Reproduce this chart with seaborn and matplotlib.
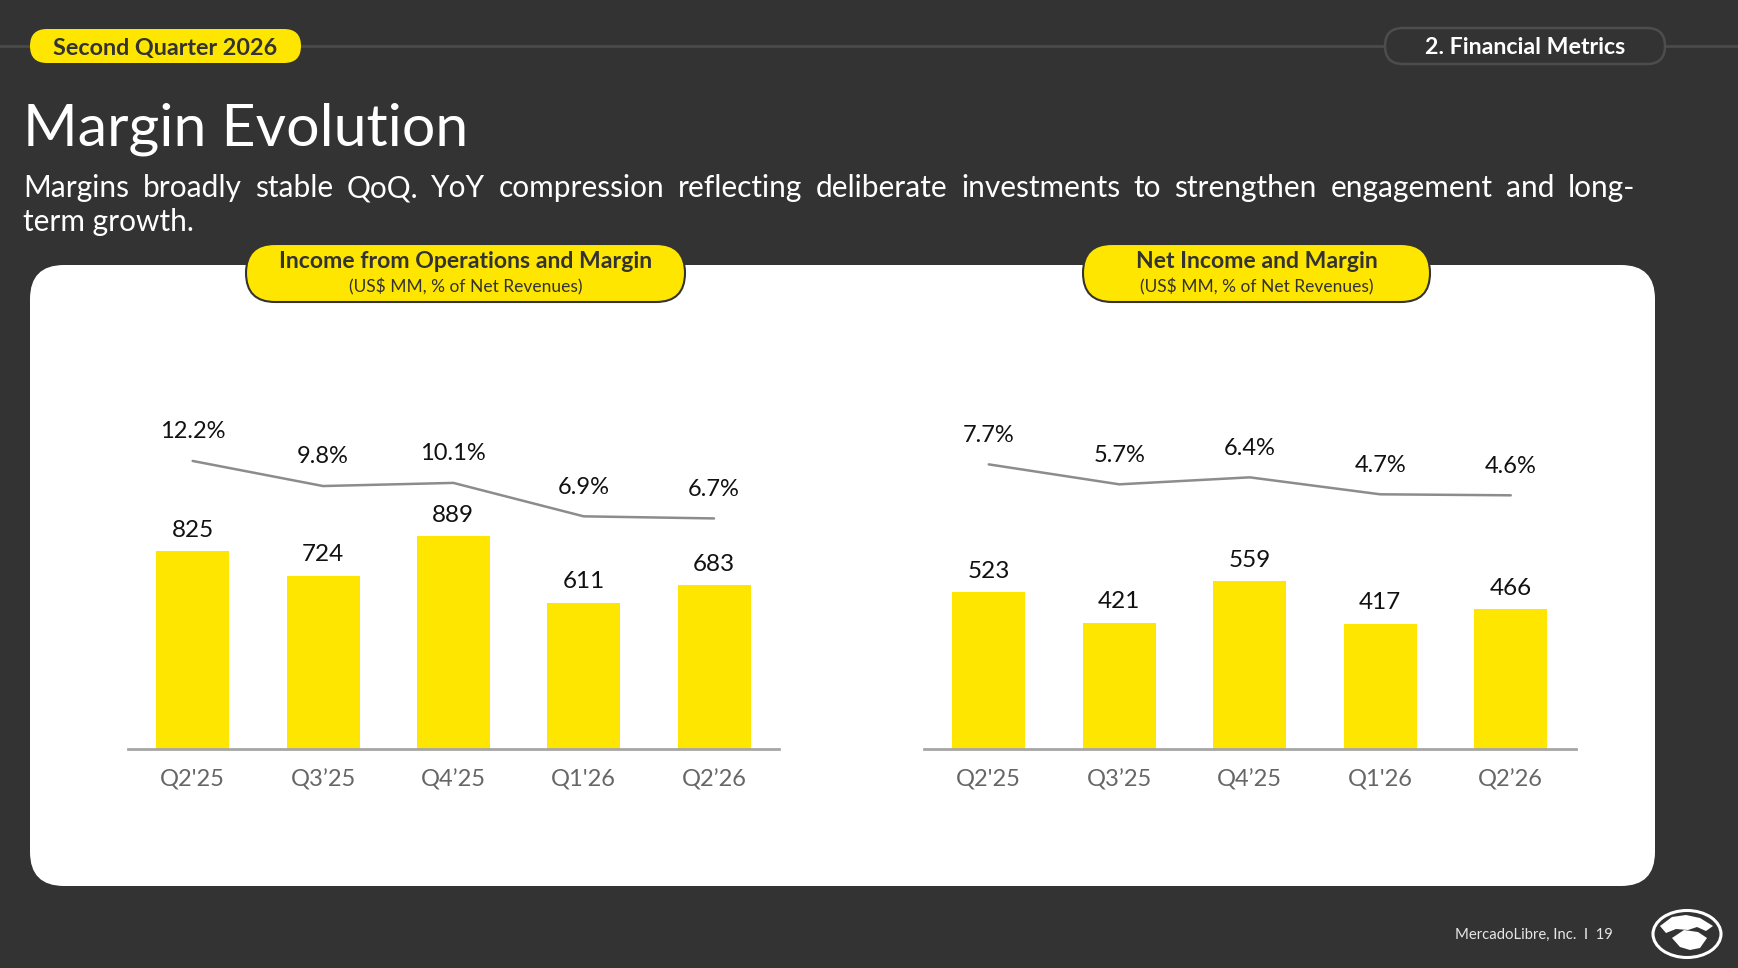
import numpy as np
import pandas as pd
import matplotlib
matplotlib.use("Agg")
import matplotlib.pyplot as plt
import seaborn as sns
from matplotlib.patches import FancyBboxPatch, Ellipse, Polygon

# ---------------- data ----------------
quarters = ["Q2'25", "Q3\u201925", "Q4\u201925", "Q1'26", "Q2\u201926"]
ops_income = [825, 724, 889, 611, 683]
ops_margin = [12.2, 9.8, 10.1, 6.9, 6.7]
net_income = [523, 421, 559, 417, 466]
net_margin = [7.7, 5.7, 6.4, 4.7, 4.6]

title = "Margin Evolution"
subtitle_1 = ("Margins broadly stable QoQ. YoY compression reflecting deliberate "
              "investments to strengthen engagement and long-")
subtitle_2 = "term growth."
left_title = "Income from Operations and Margin"
right_title = "Net Income and Margin"
units = "(US$ MM, % of Net Revenues)"

# ---------------- style ----------------
BG = "#333333"
YELLOW = "#FFE600"
DARK = "#333333"
W, H = 1738, 968

sns.set_theme(style="white")
plt.rcParams["font.family"] = ["Lato", "DejaVu Sans"]

fig = plt.figure(figsize=(W / 100, H / 100), dpi=100, facecolor=BG)
bg = fig.add_axes([0, 0, 1, 1])
bg.set_xlim(0, W)
bg.set_ylim(H, 0)
bg.axis("off")
bg.set_zorder(0)


def pill(x0, y0, x1, y1, fc, ec="none", lw=0, r=None, z=2):
    h = y1 - y0
    r = h / 2 if r is None else r
    p = FancyBboxPatch((x0, y0), x1 - x0, h,
                       boxstyle=f"round,pad=0,rounding_size={r}",
                       fc=fc, ec=ec, lw=lw, zorder=z)
    bg.add_patch(p)


# header rule
bg.plot([0, W], [45.5, 45.5], color="#4a4a4a", lw=2, zorder=1)
pill(30, 29, 301, 63, YELLOW, z=2)
bg.text(165.5, 48.5, "Second Quarter 2026", ha="center", va="center",
        fontsize=16.8, fontweight="bold", color=DARK, zorder=3)
pill(1385, 28, 1665, 64, BG, ec="#4d4d4d", lw=1.8, z=2)
bg.text(1525, 48, "2. Financial Metrics", ha="center", va="center",
        fontsize=16.7, fontweight="bold", color="white", zorder=3)

# title
bg.text(23, 146, title, ha="left", va="baseline", fontsize=42.5,
        color="white", zorder=3)

# justified subtitle line 1
renderer = fig.canvas.get_renderer()
words = subtitle_1.split(" ")
objs = [bg.text(0, 197, w, ha="left", va="baseline", fontsize=21.5,
                color="white", zorder=3) for w in words]
widths = [o.get_window_extent(renderer).width for o in objs]
x_left, x_right = 23, 1635
gap = (x_right - x_left - sum(widths)) / (len(words) - 1)
xc = x_left
for o, wd in zip(objs, widths):
    o.set_x(xc)
    xc += wd + gap
bg.text(23, 231, subtitle_2, ha="left", va="baseline", fontsize=21.5,
        color="white", zorder=3)

# white panel
pill(30, 265, 1655, 886, "white", r=34, z=1)

# chart title pills
for (x0, x1), ttl in [((246, 685), left_title), ((1083, 1430), right_title)]:
    pill(x0, 244, x1, 302, YELLOW, ec=DARK, lw=1.5, z=4)
    cx = (x0 + x1) / 2
    bg.text(cx, 261, ttl, ha="center", va="center", fontsize=16.6,
            fontweight="bold", color=DARK, zorder=5)
    bg.text(cx, 287, units, ha="center", va="center", fontsize=12.5,
            color=DARK, zorder=5)

# footer
bg.text(1455, 934.5, "MercadoLibre, Inc.  I  19", ha="left", va="center",
        fontsize=10.7, color="#e6e6e6", zorder=3)
bg.add_patch(Ellipse((1687, 934), 68, 47, fc="none", ec="white", lw=2.2, zorder=3))
bg.add_patch(Polygon([[1660, 926], [1672, 917], [1686, 915], [1700, 918],
                      [1713, 926], [1706, 931], [1697, 927], [1688, 930],
                      [1676, 929], [1666, 933]], closed=True, fc="white",
                     ec="none", zorder=4))
bg.add_patch(Polygon([[1672, 938], [1684, 930], [1698, 932], [1707, 938],
                      [1700, 948], [1690, 950], [1680, 947]], closed=True,
                     fc="white", ec="none", zorder=4))


# ---------------- charts ----------------
def fx(x):
    return x / W


def fy(y):
    return 1 - y / H


def make_chart(x0, x1, values, margins, bar_max, m_lo, m_hi):
    top, base = 300, 749.3
    ax = fig.add_axes([fx(x0), fy(base), fx(x1) - fx(x0), (base - top) / H])
    ax.set_zorder(6)
    ax.patch.set_alpha(0)
    df = pd.DataFrame({"quarter": quarters, "value": values})
    sns.barplot(data=df, x="quarter", y="value", color=YELLOW, width=0.56,
                saturation=1, ax=ax, edgecolor="none")
    ax.set_xlim(-0.5, 4.5)
    ax.set_ylim(0, bar_max)
    for i, v in enumerate(values):
        ax.annotate(f"{v}", (i, v), xytext=(0, 15), textcoords="offset points",
                    ha="center", va="center", fontsize=17.5, color="#111111")
    ax.set_xlabel("")
    ax.set_ylabel("")
    ax.set_yticks([])
    ax.tick_params(axis="x", length=0, pad=14, labelsize=17, colors="#666666")
    for s in ["left", "right", "top"]:
        ax.spines[s].set_visible(False)
    ax.spines["bottom"].set_color("#a6a6a6")
    ax.spines["bottom"].set_linewidth(2)

    ax2 = ax.twinx()
    dfl = pd.DataFrame({"pos": range(len(quarters)), "margin": margins})
    sns.lineplot(data=dfl, x="pos", y="margin", color="#8c8c8c", lw=1.8,
                 ax=ax2)
    ax2.set_ylim(m_lo, m_hi)
    ax2.set_xlim(-0.5, 4.5)
    for i, m in enumerate(margins):
        ax2.annotate(f"{m:.1f}%", (i, m), xytext=(0, 21),
                     textcoords="offset points", ha="center", va="center",
                     fontsize=17, color="#111111")
    ax2.axis("off")
    return ax


make_chart(127.5, 779.2, ops_income, ops_margin, 1872, -15.39, 27.6)
make_chart(923.5, 1576.0, net_income, net_margin, 1493, -20.85, 24.17)

fig.savefig("out.png", dpi=100, facecolor=BG)
